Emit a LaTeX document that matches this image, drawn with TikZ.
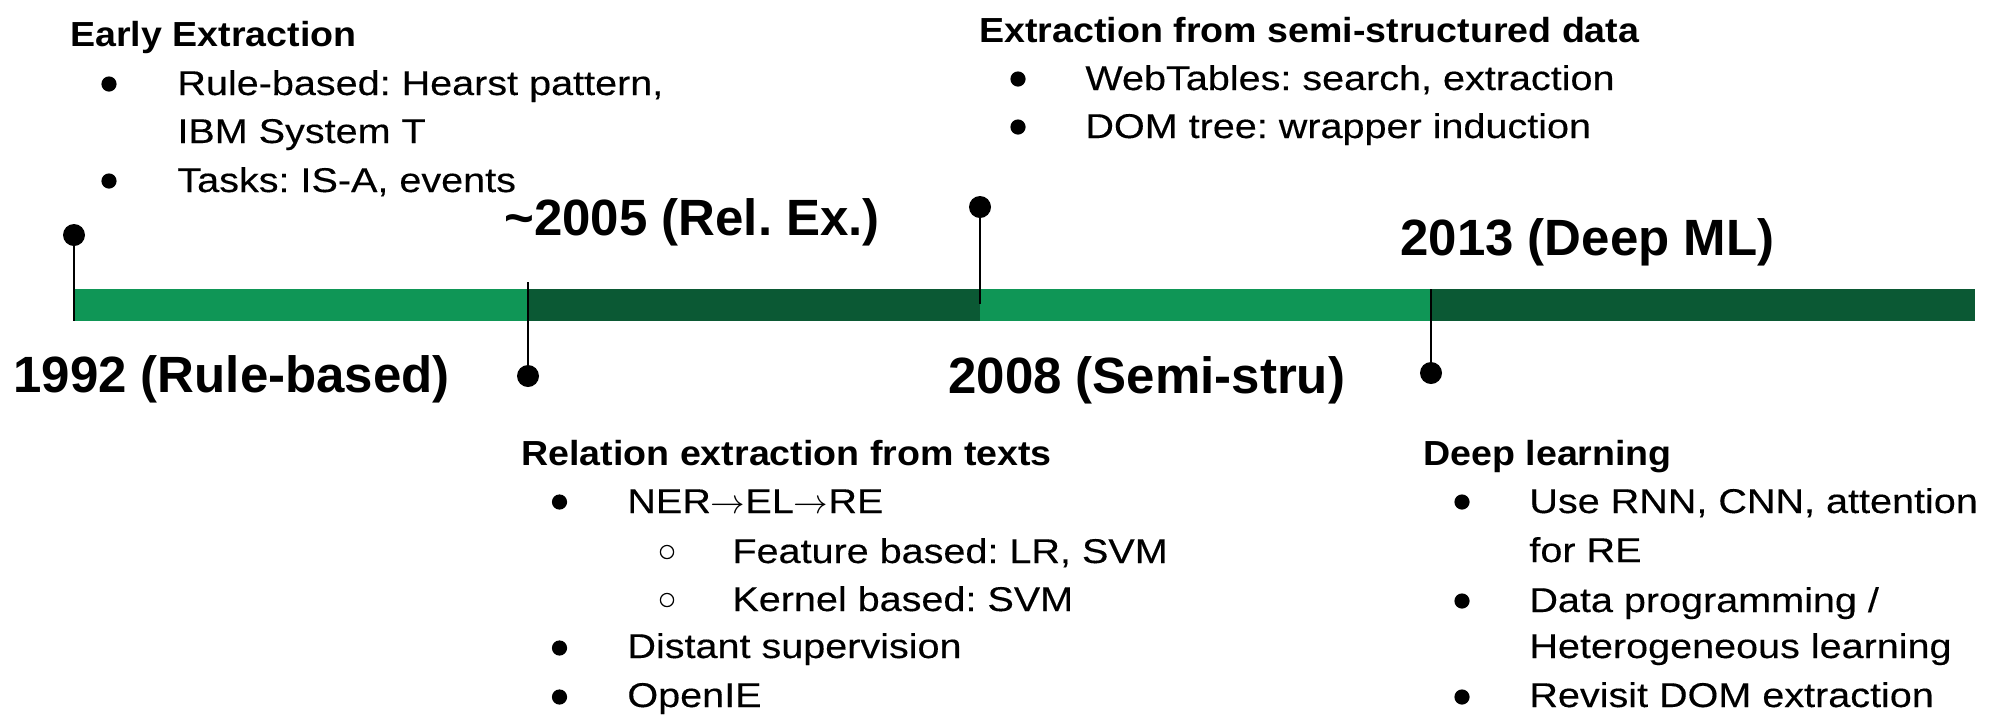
\documentclass[tikz,border=0pt]{standalone}
\usepackage{fontspec}
\setmainfont{Liberation Sans}
\newfontfamily\yrfam{Liberation Sans}
\newfontfamily\hdfam[FakeStretch=1.08]{Liberation Sans}
\newfontfamily\txfam[FakeStretch=1.15,FakeBold=0.3]{Liberation Sans}
\newcommand{\yearfont}{\yrfam\bfseries\fontsize{25.5pt}{26pt}\selectfont}
\newcommand{\headfont}{\hdfam\bfseries\fontsize{17.4pt}{18pt}\selectfont}
\newcommand{\bodyfont}{\txfam\fontsize{17.2pt}{17pt}\selectfont}
\newcommand{\arr}{{\fontsize{19pt}{19pt}\selectfont$\rightarrow$}}
\definecolor{lgreen}{HTML}{0F9656}
\definecolor{dgreen}{HTML}{0B5934}
\frenchspacing

\begin{document}
\begin{tikzpicture}[x=0.5pt,y=-0.5pt,
  yr/.style={font=\yearfont, inner sep=0pt, anchor=base west},
  hd/.style={font=\headfont, inner sep=0pt, anchor=base west},
  txt/.style={font=\bodyfont, inner sep=0pt, anchor=base west},
  bul/.style={circle, fill=black, inner sep=0pt, minimum size=7.6pt},
  obul/.style={circle, draw=black, line width=0.6pt, inner sep=0pt, minimum size=6.6pt},
  tdot/.style={circle, fill=black, inner sep=0pt, minimum size=11pt},
  tick/.style={black, line width=1pt}]
\useasboundingbox (0,0) rectangle (1994,714);

% timeline bar
\fill[lgreen] (74,289) rectangle (528,321);
\fill[dgreen] (528,289) rectangle (980,321);
\fill[lgreen] (980,289) rectangle (1431,321);
\fill[dgreen] (1431,289) rectangle (1975,321);

% ticks
\node[tdot] (d92) at (74,235) {};
\coordinate (b92) at (74,321);
\draw[tick] (d92) -- (b92);

\node[tdot] (d05) at (528,376) {};
\coordinate (b05) at (528,282);
\draw[tick] (b05) -- (d05);

\node[tdot] (d08) at (980,207) {};
\coordinate (b08) at (980,304);
\draw[tick] (d08) -- (b08);

\node[tdot] (d13) at (1431,373) {};
\coordinate (b13) at (1431,289);
\draw[tick] (b13) -- (d13);

% years
\node[yr] (y92) at (13,392)   {1992 (Rule-based)};
\node[yr] (y05) at (504,235)  {\textasciitilde2005 (Rel. Ex.)};
\node[yr] (y08) at (948,393)  {2008 (Semi-stru)};
\node[yr] (y13) at (1400,255) {2013 (Deep ML)};

% early extraction
\node[hd]  (h92) at (70,46.7) {Early Extraction};
\node[bul] (p921) at (109,84) {};
\node[txt] (t921) at (177,95) {Rule-based: Hearst pattern,};
\node[txt] (t922) at (177,143) {IBM System T};
\node[bul] (p923) at (109,181) {};
\node[txt] (t923) at (177,192) {Tasks: IS-A, events};

% semi-structured
\node[hd]  (h08) at (979,42) {Extraction from semi-structured data};
\node[bul] (p081) at (1018,79) {};
\node[txt] (t081) at (1085,90) {WebTables: search, extraction};
\node[bul] (p082) at (1018,127) {};
\node[txt] (t082) at (1085,138) {DOM tree: wrapper induction};

% relation extraction
\node[hd]   (h05) at (521,465) {Relation extraction from texts};
\node[bul]  (p051) at (559.5,502) {};
\node[txt]  (t051) at (627,513) {NER\arr EL\arr RE};
\node[obul] (p052) at (667,552) {};
\node[txt]  (t052) at (732,563) {Feature based: LR, SVM};
\node[obul] (p053) at (667,600) {};
\node[txt]  (t053) at (732,611) {Kernel based: SVM};
\node[bul]  (p054) at (559.5,648) {};
\node[txt]  (t054) at (627,658) {Distant supervision};
\node[bul]  (p055) at (559.5,697) {};
\node[txt]  (t055) at (627,707) {OpenIE};

% deep learning
\node[hd]  (h13) at (1423,465) {Deep learning};
\node[bul] (p131) at (1462,502) {};
\node[txt] (t131) at (1529,513) {Use RNN, CNN, attention};
\node[txt] (t132) at (1529,562) {for RE};
\node[bul] (p133) at (1462,601) {};
\node[txt] (t133) at (1529,612) {Data programming /};
\node[txt] (t134) at (1529,658) {Heterogeneous learning};
\node[bul] (p135) at (1462,697) {};
\node[txt] (t135) at (1529,707) {Revisit DOM extraction};
\end{tikzpicture}
\end{document}
